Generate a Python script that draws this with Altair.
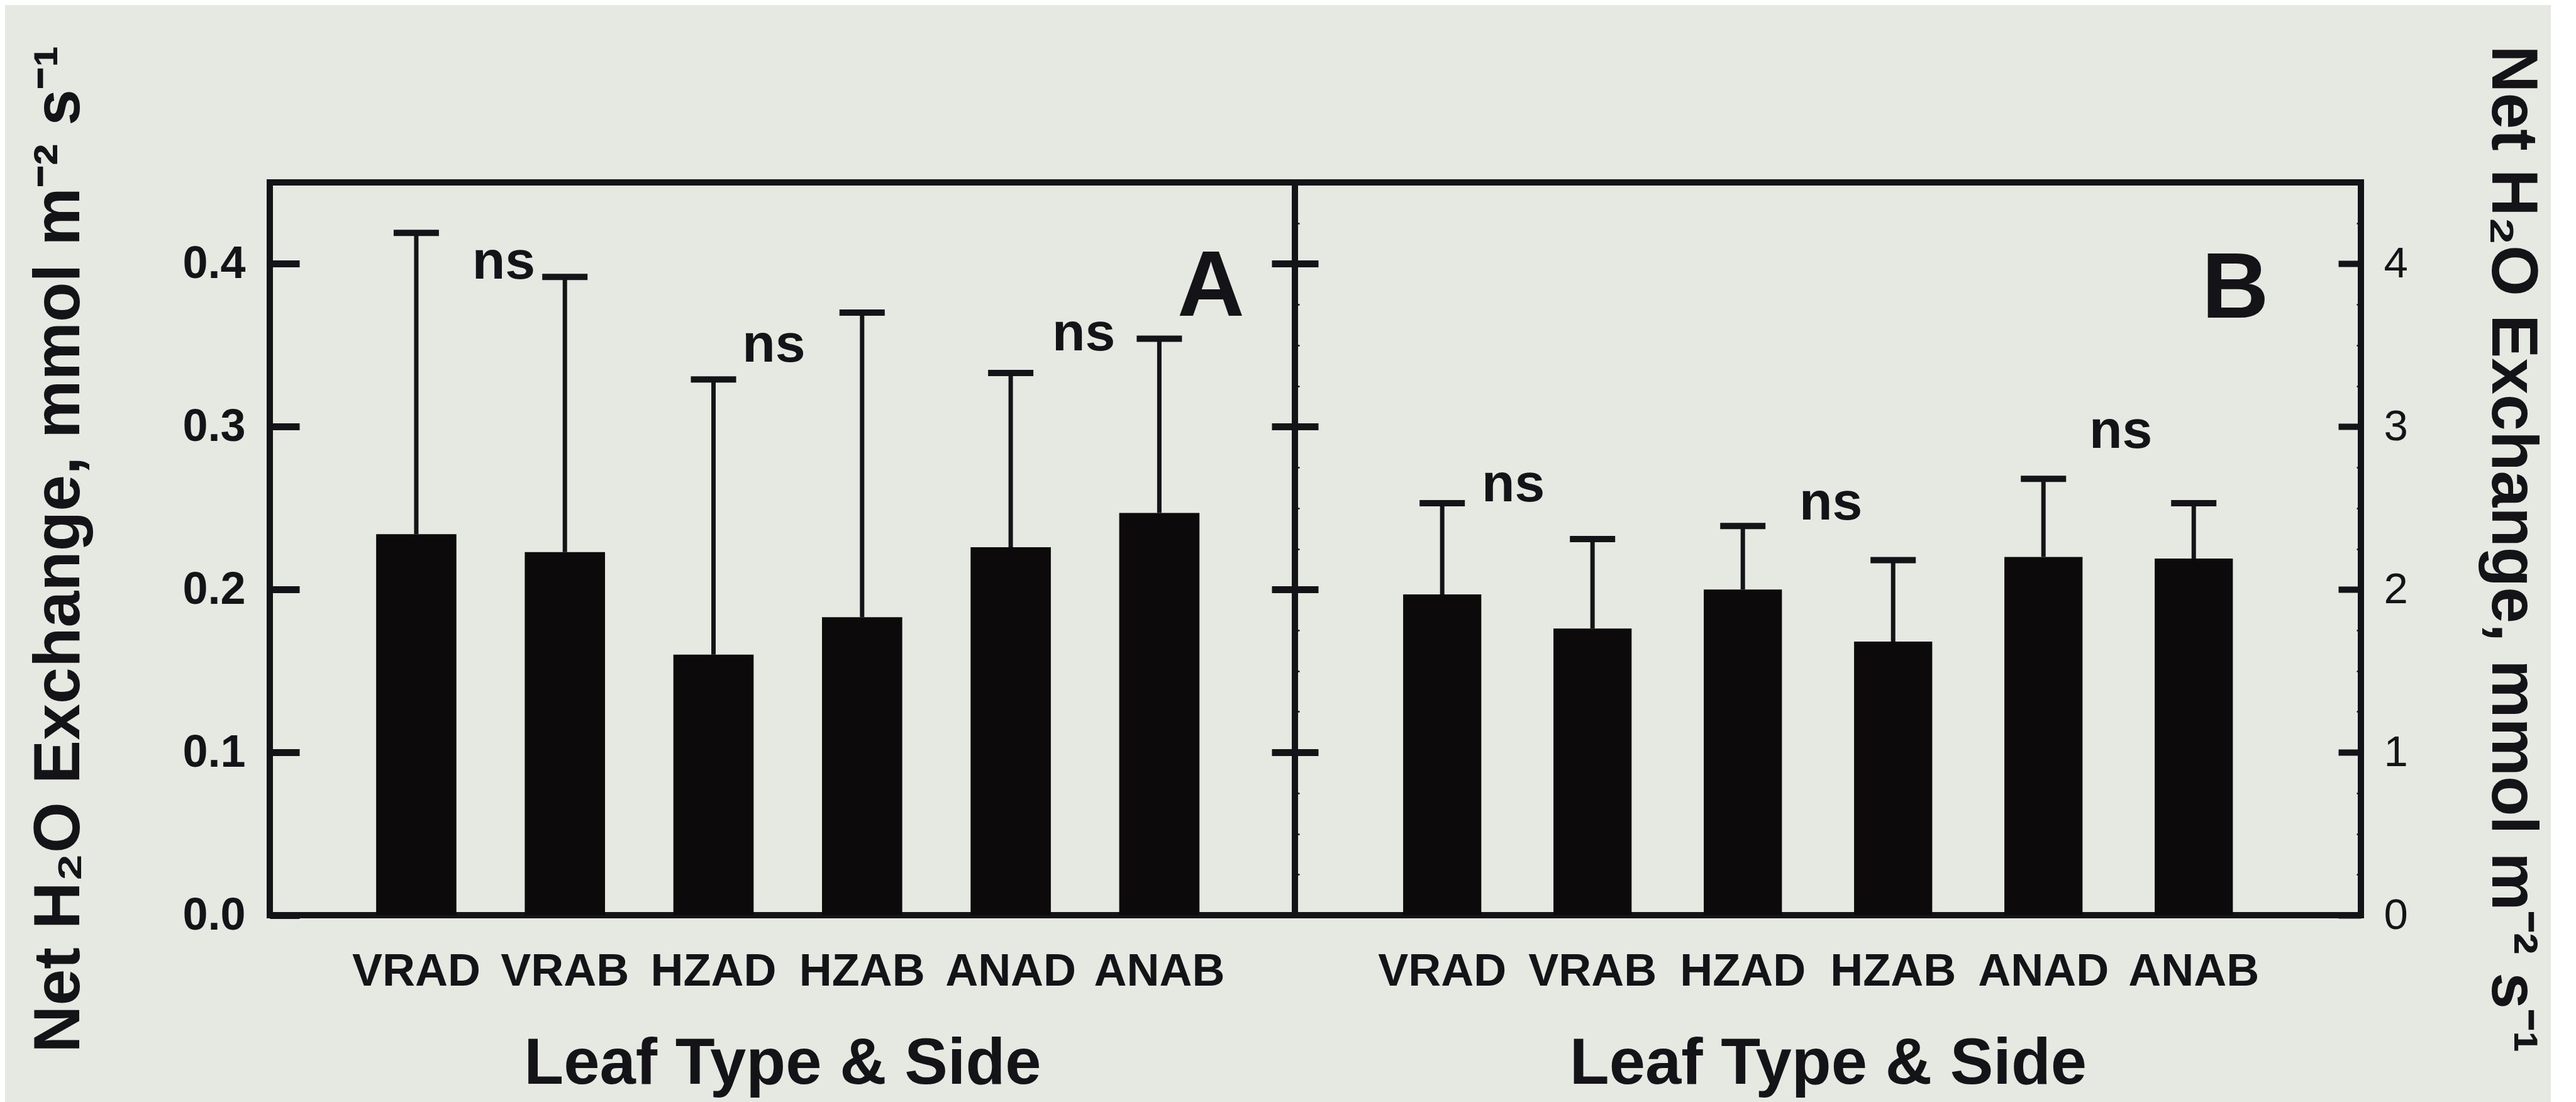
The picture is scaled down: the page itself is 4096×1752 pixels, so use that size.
import altair as alt
import pandas as pd

# ---------------- data ----------------
categories = ["VRAD", "VRAB", "HZAD", "HZAB", "ANAD", "ANAB"]

mean_a = [0.234, 0.223, 0.160, 0.183, 0.226, 0.247]
top_a = [0.419, 0.392, 0.329, 0.370, 0.333, 0.354]

mean_b = [1.97, 1.76, 2.00, 1.68, 2.20, 2.19]
top_b = [2.53, 2.31, 2.39, 2.18, 2.68, 2.53]

left_ticks = [0.0, 0.1, 0.2, 0.3, 0.4]
right_ticks = [0, 1, 2, 3, 4]

ns_pairs = ["VRAD", "HZAD", "ANAD"]
ns_a_y = [0.391, 0.340, 0.347]
ns_b_y = [2.54, 2.43, 2.87]

letters = ["A", "B"]
letter_y = [0.368, 3.67]

y_title = "Net H\u2082O Exchange, mmol m\u207b\u00b2 s\u207b\u00b9"
x_title = "Leaf Type & Side"

# ---------------- styling ----------------
FONT = "Liberation Sans"
INK = "#141418"
BAR = "#0c0a0a"
BG = "#e5e9e2"

W_A, W_B, H = 1630, 1695, 1165
NS_DX_A = [139, 96, 116]
NS_DX_B = [113, 140, 123]
LETTER_DX = [82, 66]

df_a = pd.DataFrame({"cat": categories, "mean": mean_a, "top": top_a})
df_b = pd.DataFrame({"cat": categories, "mean": mean_b, "top": top_b})

x_axis = alt.Axis(
    title=x_title,
    labelAngle=0,
    labelFont=FONT,
    labelFontWeight="bold",
    labelFontSize=72,
    labelColor=INK,
    labelPadding=54,
    labelLimit=0,
    ticks=False,
    tickSize=0,
    domain=False,
    grid=False,
    titleFont=FONT,
    titleFontSize=103,
    titleFontWeight="bold",
    titleColor=INK,
    titlePadding=61,
    titleLimit=0,
)


def xenc(band):
    pad_inner, pad_outer, align = band
    return alt.X(
        "cat:N",
        sort=categories,
        scale=alt.Scale(paddingInner=pad_inner, paddingOuter=pad_outer,
                        align=align),
        axis=x_axis,
    )


def panel(df, dom, band, width, bar_axis, stem_axis, cap_axis,
          ns_y, ns_dx, letter, l_y, l_dx):
    ysc = alt.Scale(domain=dom, nice=False, zero=True)
    bars = alt.Chart(df).mark_bar(color=BAR, opacity=1).encode(
        x=xenc(band),
        y=alt.Y("mean:Q", scale=ysc, axis=bar_axis),
    )
    stems = alt.Chart(df).mark_rule(color=INK, strokeWidth=7, opacity=1).encode(
        x=xenc(band),
        y=alt.Y("mean:Q", scale=ysc, axis=stem_axis),
        y2="top:Q",
    )
    caps = alt.Chart(df).mark_tick(color=INK, size=72, thickness=10,
                                   opacity=1).encode(
        x=xenc(band),
        y=alt.Y("top:Q", scale=ysc, axis=cap_axis),
    )
    layers = [bars, stems, caps]
    for cat, yv, dx in zip(ns_pairs, ns_y, ns_dx):
        layers.append(
            alt.Chart(pd.DataFrame({"cat": [cat], "y": [yv], "t": ["ns"]}))
            .mark_text(font=FONT, fontWeight="bold", fontSize=86, color=INK,
                       align="center", baseline="alphabetic", dx=dx)
            .encode(x=xenc(band), y=alt.Y("y:Q", scale=ysc, axis=None),
                    text="t:N")
        )
    layers.append(
        alt.Chart(pd.DataFrame({"cat": ["ANAB"], "y": [l_y], "t": [letter]}))
        .mark_text(font=FONT, fontWeight="bold", fontSize=148, color=INK,
                   align="center", baseline="alphabetic", dx=l_dx)
        .encode(x=xenc(band), y=alt.Y("y:Q", scale=ysc, axis=None),
                text="t:N")
    )
    return (
        alt.layer(*layers)
        .properties(width=width, height=H)
        .resolve_axis(y="independent")
    )


left_axis_a = alt.Axis(
    orient="left", values=left_ticks, format=".1f",
    offset=-47, tickSize=47, tickWidth=11, tickColor=INK,
    domain=False, grid=False,
    labelFont=FONT, labelFontWeight="bold", labelFontSize=72, labelColor=INK,
    labelPadding=39,
    title=y_title, titleFont=FONT, titleFontSize=104, titleFontWeight="bold",
    titleColor=INK, titlePadding=142, titleLimit=0,
)
divider_axis = alt.Axis(
    orient="right", values=left_ticks[1:], offset=-37, tickSize=74,
    tickWidth=11, tickColor=INK, domain=False, labels=False, grid=False,
    title=None,
)
right_axis_b = alt.Axis(
    orient="right", values=right_ticks, format="d",
    offset=-36, tickSize=36, tickWidth=10, tickColor=INK,
    domain=False, grid=False,
    labelFont=FONT, labelFontWeight="normal", labelFontSize=69, labelColor=INK,
    labelPadding=36,
    title=y_title, titleFont=FONT, titleFontSize=104, titleFontWeight="bold",
    titleColor=INK, titleAngle=90, titlePadding=112, titleLimit=0,
)
minor_vals = [i / 4 for i in range(1, 18) if i % 4]
minor_right = alt.Axis(
    orient="right", values=minor_vals, offset=-7, tickSize=7, tickWidth=2.5,
    tickColor=INK, domain=False, labels=False, grid=False, title=None,
)
minor_left = alt.Axis(
    orient="left", values=minor_vals, offset=-7, tickSize=7, tickWidth=2.5,
    tickColor=INK, domain=False, labels=False, grid=False, title=None,
)

panel_a = panel(df_a, [0, 0.45], (0.46, 0.679, 0.527), W_A, left_axis_a, None,
                divider_axis, ns_a_y, NS_DX_A, letters[0], letter_y[0],
                LETTER_DX[0])
panel_b = panel(df_b, [0, 4.5], (0.48, 0.786, 0.458), W_B, right_axis_b,
                minor_right, minor_left, ns_b_y, NS_DX_B, letters[1],
                letter_y[1], LETTER_DX[1])

chart = (
    alt.hconcat(panel_a, panel_b, spacing=0, bounds="flush")
    .properties(background=BG,
                padding={"left": 29, "top": 58, "right": 5, "bottom": 5})
    .configure_view(stroke=INK, strokeWidth=10)
)

chart.save("out.html", embed_options={"renderer": "svg", "actions": False})
